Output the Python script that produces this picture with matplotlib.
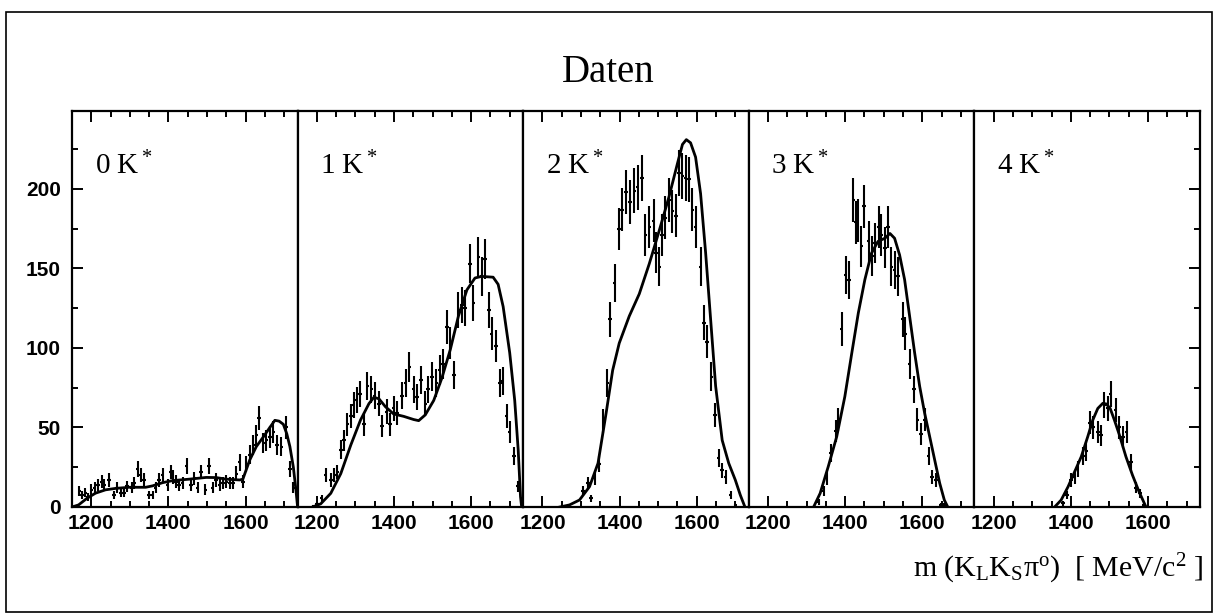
import numpy as np
import matplotlib.pyplot as plt
from matplotlib.patches import Rectangle
from matplotlib.ticker import MultipleLocator, FixedLocator

plt.rcParams['mathtext.fontset'] = 'custom'
plt.rcParams['mathtext.rm'] = 'Liberation Serif'
plt.rcParams['mathtext.it'] = 'Liberation Serif:italic'

# number of K* per panel
n_kstar = ['0', '1', '2', '3', '4']

# --- data points (mass in MeV, entries) ---
p0_x = [1169, 1176, 1185, 1192, 1200, 1209, 1218, 1227, 1233, 1246, 1259, 1267, 1276, 1285, 1293,
        1305, 1312, 1320, 1328, 1337, 1350, 1359, 1367, 1376, 1385, 1398, 1406, 1411, 1420, 1428,
        1437, 1447, 1459, 1467, 1476, 1485, 1496, 1505, 1515, 1524, 1533, 1541, 1550, 1559, 1567,
        1576, 1585, 1593, 1602, 1611, 1620, 1628, 1635, 1646, 1654, 1663, 1672, 1682, 1693, 1705,
        1715, 1724]
p0_y = [10, 7.5, 9, 6.5, 11, 12, 14, 16, 14, 17, 7.5, 12, 9, 9, 13,
        12, 15, 24, 20, 17, 7.5, 7.5, 12, 17, 20, 14, 22, 19, 16, 14,
        15, 26, 14, 18, 12, 22, 11, 26, 12, 17, 14, 15, 16, 15, 15,
        21, 28, 16, 27, 33, 39, 45, 56, 40, 42, 44, 47, 39, 38, 50,
        24, 12]

p1_x = [1191, 1200, 1212, 1223, 1236, 1245, 1253, 1262, 1270, 1279, 1288, 1295, 1303, 1312, 1322,
        1331, 1341, 1350, 1361, 1369, 1381, 1389, 1399, 1408, 1421, 1430, 1440, 1451, 1460, 1470,
        1481, 1488, 1498, 1510, 1518, 1527, 1537, 1546, 1556, 1567, 1576, 1584, 1597, 1606, 1619,
        1627, 1636, 1646, 1653, 1664, 1675, 1682, 1692, 1700, 1711, 1722]
p1_y = [0.5, 2, 5.5, 20, 17, 20, 22, 36, 42, 52, 57, 64, 67, 71, 52,
        76, 74, 70, 65, 51, 60, 52, 62, 59, 70, 78, 88, 74, 69, 80,
        65, 74, 82, 78, 86, 90, 113, 103, 83, 124, 127, 125, 153, 128, 157,
        145, 156, 124, 109, 101, 78, 79, 57, 47, 32, 13]

p2_x = [1305, 1318, 1326, 1335, 1346, 1358, 1368, 1375, 1387, 1398, 1406, 1417, 1427, 1438, 1447,
        1458, 1467, 1477, 1488, 1494, 1503, 1510, 1518, 1528, 1537, 1546, 1554, 1563, 1571, 1580,
        1589, 1597, 1610, 1619, 1627, 1638, 1647, 1657, 1666, 1675, 1688, 1700]
p2_y = [10, 15, 5.5, 18, 27, 54, 78, 118, 141, 175, 187, 198, 192, 199, 201,
        207, 171, 176, 180, 160, 151, 171, 182, 193, 186, 183, 210, 208, 207, 206,
        187, 176, 151, 116, 104, 82, 58, 31, 23, 19, 7.5, 1]

p3_x = [1331, 1344, 1352, 1363, 1375, 1382, 1391, 1401, 1410, 1421, 1427, 1432, 1442, 1449, 1461,
        1470, 1477, 1487, 1494, 1503, 1511, 1520, 1528, 1537, 1550, 1556, 1567, 1578, 1587, 1597,
        1606, 1616, 1625, 1636, 1649, 1657]
p3_y = [3.4, 10, 18, 34, 48, 55, 112, 146, 143, 193, 179, 180, 164, 189, 167,
        158, 166, 176, 171, 163, 176, 151, 149, 145, 118, 109, 90, 74, 55, 46,
        55, 32, 19, 17, 1.5, 1.5]

p4_x = [1380, 1390, 1401, 1410, 1418, 1431, 1440, 1450, 1458, 1470, 1478, 1487, 1496, 1503, 1516,
        1526, 1535, 1545, 1556, 1569, 1579, 1590]
p4_y = [2.3, 7.5, 17, 19, 24, 32, 35, 53, 50, 47, 45, 64, 62, 71, 61,
        50, 44, 47, 28, 12, 8.6, 1.3]

# --- fitted curves ---
f0_x = [1150, 1167, 1189, 1211, 1237, 1263, 1298, 1341, 1359, 1385, 1411, 1454, 1498, 1524, 1550,
        1585, 1593, 1611, 1628, 1646, 1663, 1676, 1687, 1698, 1707, 1715, 1724, 1731, 1735]
f0_y = [0, 1.3, 5.5, 8.7, 10.8, 11.7, 12.4, 12.4, 13.3, 15.3, 16.6, 17.5, 18.6, 18.5, 17.5,
        17, 17.5, 29.6, 38, 44, 50, 54.5, 54, 52, 46, 38, 25, 10, 0]

f1_x = [1189, 1210, 1236, 1262, 1288, 1313, 1335, 1348, 1361, 1378, 1399, 1425, 1451, 1464, 1481,
        1503, 1524, 1546, 1567, 1589, 1610, 1627, 1657, 1670, 1683, 1700, 1713, 1722, 1728, 1731]
f1_y = [0, 2, 8.6, 21, 39, 54.6, 65, 69, 68, 63, 58.5, 57, 55, 54.3, 57.9,
        67, 81, 99, 120, 136.5, 144, 145, 144.5, 140, 126, 97, 67, 36, 6.5, 0]

f2_x = [1245, 1270, 1296, 1322, 1344, 1365, 1382, 1399, 1425, 1451, 1477, 1503, 1528, 1550, 1563,
        1573, 1584, 1597, 1610, 1623, 1636, 1649, 1666, 1683, 1700, 1713, 1725]
f2_y = [0, 1.3, 4.4, 12.8, 27.5, 59, 86, 103, 120, 134, 153, 174, 195, 216, 228,
        231, 229, 220, 197, 160, 118, 76, 42, 27.5, 17, 7.5, 0]

f3_x = [1318, 1335, 1356, 1378, 1399, 1417, 1434, 1451, 1468, 1485, 1503, 1516, 1528, 1541, 1554,
        1567, 1580, 1593, 1606, 1619, 1632, 1645, 1657, 1666]
f3_y = [0, 8.6, 25.4, 44.3, 69.4, 96.7, 122, 143, 159.5, 167, 169, 172, 169, 158.5, 143,
        120, 97, 76, 59, 44.3, 29.6, 15, 4.4, 0]

f4_x = [1358, 1375, 1393, 1410, 1427, 1444, 1457, 1470, 1483, 1492, 1502, 1513, 1526, 1543, 1560,
        1577, 1595]
f4_y = [0, 4.4, 12.8, 22.2, 31.6, 44.3, 54.7, 62, 65.2, 64.8, 62, 54.7, 45.3, 31.6, 20,
        9.6, 0]

data_x = [p0_x, p1_x, p2_x, p3_x, p4_x]
data_y = [p0_y, p1_y, p2_y, p3_y, p4_y]
fit_x = [f0_x, f1_x, f2_x, f3_x, f4_x]
fit_y = [f0_y, f1_y, f2_y, f3_y, f4_y]

W, H = 1217, 615
fig = plt.figure(figsize=(W / 100, H / 100), dpi=100)
axes = fig.subplots(1, 5, sharey=True, gridspec_kw={'wspace': 0})
fig.subplots_adjust(left=72 / W, right=1200 / W, bottom=1 - 507 / H, top=1 - 111 / H)

for i, ax in enumerate(axes):
    x = np.array(data_x[i])
    y = np.array(data_y[i])
    ax.errorbar(x, y, yerr=np.sqrt(y), xerr=4.5, fmt='none', ecolor='black',
                elinewidth=1.5, capsize=0)
    ax.plot(fit_x[i], fit_y[i], color='black', lw=2.0)

    ax.set_xlim(1150, 1735)
    ax.set_ylim(0, 249)
    ax.xaxis.set_major_locator(FixedLocator([1200, 1400, 1600]))
    ax.xaxis.set_minor_locator(MultipleLocator(50))
    ax.yaxis.set_major_locator(MultipleLocator(50))
    ax.yaxis.set_minor_locator(MultipleLocator(25))
    ax.tick_params(which='both', direction='in', top=True, bottom=True,
                   left=(i == 0), right=(i == 4), labelleft=(i == 0), width=1.4)
    ax.tick_params(which='major', length=8)
    ax.tick_params(which='minor', length=4)
    ax.tick_params(axis='x', pad=5)
    ax.tick_params(axis='y', pad=8)
    for lab in ax.get_xticklabels() + ax.get_yticklabels():
        lab.set_fontfamily('Liberation Sans')
        lab.set_fontweight('bold')
        lab.set_fontsize(15)
    for sp in ax.spines.values():
        sp.set_linewidth(1.6)

    ax.text(0.10, 0.84, n_kstar[i] + ' K$^*$', transform=ax.transAxes,
            family='Liberation Serif', fontsize=21, va='baseline')

fig.text(0.5, 1 - 82 / H, 'Daten', ha='center', va='baseline',
         family='Liberation Serif', fontsize=28)
fig.text(1203 / W, 1 - 577 / H,
         r'm (K$_\mathrm{L}$K$_\mathrm{S}$π$^\mathrm{o}$)  [ MeV/c$^2$ ]',
         ha='right', va='baseline', family='Liberation Serif', fontsize=21.5)

# outer frame
fig.patches.append(Rectangle((6 / W, 3 / H), (1212 - 6) / W, (612 - 12) / H,
                             transform=fig.transFigure, fill=False,
                             edgecolor='black', lw=1.2))

fig.savefig('out.png', dpi=100)
